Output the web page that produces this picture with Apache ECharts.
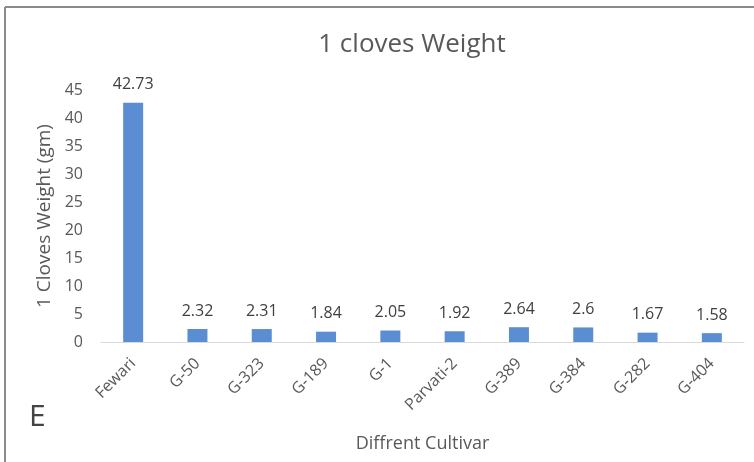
<!DOCTYPE html>
<html>
<head>
<meta charset="utf-8">
<script src="https://cdn.jsdelivr.net/npm/echarts@6/dist/echarts.min.js"></script>
<style>
  html, body { margin: 0; padding: 0; background: #fff; }
  #chart { width: 754px; height: 462px; }
</style>
</head>
<body>
<div id="chart"></div>
<script>
// Cultivars and their single-clove weight (gm)
const cultivars = ['Fewari', 'G-50', 'G-323', 'G-189', 'G-1', 'Parvati-2', 'G-389', 'G-384', 'G-282', 'G-404'];
const cloveWeight = [42.73, 2.32, 2.31, 1.84, 2.05, 1.92, 2.64, 2.6, 1.67, 1.58];
const yTicks = [0, 5, 10, 15, 20, 25, 30, 35, 40, 45];

const FONT = '"Open Sans", "Liberation Sans", sans-serif';
const chart = echarts.init(document.getElementById('chart'), null, { renderer: 'canvas' });

chart.setOption({
  backgroundColor: '#ffffff',
  animation: false,
  graphic: [
    // panel frame (top and left edges)
    { type: 'line', shape: { x1: 5, y1: 7, x2: 754, y2: 7 }, style: { stroke: '#8a8a8a', lineWidth: 2 } },
    { type: 'line', shape: { x1: 5, y1: 7, x2: 5, y2: 462 }, style: { stroke: '#8a8a8a', lineWidth: 2 } },
    // chart title
    { type: 'text', x: 412, y: 45, style: {
        text: '1 cloves Weight', font: '26px ' + FONT, fill: '#595959',
        textAlign: 'center', textVerticalAlign: 'middle' } },
    // panel letter
    { type: 'text', left: 29, top: 402, style: { text: 'E', font: '30px ' + FONT, fill: '#444444' } }
  ],
  grid: { left: 101, right: 10, top: 90, bottom: 120, containLabel: false },
  xAxis: {
    type: 'category',
    data: cultivars,
    name: 'Diffrent Cultivar',
    nameLocation: 'middle',
    nameGap: 93,
    nameTextStyle: { fontFamily: FONT, fontSize: 18, color: '#595959' },
    axisLine: { lineStyle: { color: '#d9d9d9', width: 1 } },
    axisTick: { show: false },
    axisLabel: { rotate: 45, interval: 0, margin: 19, fontFamily: FONT, fontSize: 16, color: '#595959' }
  },
  yAxis: {
    type: 'value',
    min: yTicks[0],
    max: yTicks[yTicks.length - 1],
    interval: 5,
    name: '1 Cloves Weight (gm)',
    nameLocation: 'middle',
    nameGap: 44,
    nameTextStyle: { fontFamily: FONT, fontSize: 19, color: '#595959' },
    axisLine: { show: false },
    axisTick: { show: false },
    splitLine: { show: false },
    axisLabel: { margin: 18, fontFamily: FONT, fontSize: 16, color: '#595959' }
  },
  series: [{
    type: 'bar',
    data: cloveWeight,
    barWidth: 20,
    itemStyle: { color: '#5b8dd3' },
    label: {
      show: true,
      position: 'top',
      distance: 10,
      fontFamily: FONT,
      fontSize: 16,
      color: '#404040'
    }
  }]
});
</script>
</body>
</html>
